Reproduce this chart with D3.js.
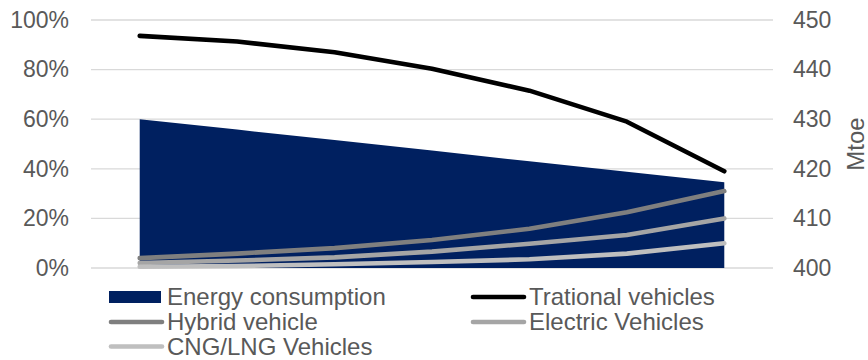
<!DOCTYPE html>
<html>
<head>
<meta charset="utf-8">
<script src="https://cdn.jsdelivr.net/npm/d3@7"></script>
<style>
  body { margin: 0; background: #fff; }
  svg { display: block; font-family: "Liberation Sans", Arial, sans-serif; }
</style>
</head>
<body>
<svg id="chart" width="868" height="360"></svg>
<script>
// ---- data ----
const categories = ["1", "2", "3", "4", "5", "6", "7"];
const energyConsumption = [430, 427.9, 425.8, 423.7, 421.5, 419.4, 417.3]; // Mtoe (right axis)
const trationalVehicles = [93.6, 91.3, 87.0, 80.3, 71.5, 59.0, 39.0];      // %
const hybridVehicle     = [4.0, 5.8, 8.0, 11.3, 15.8, 22.5, 31.0];
const electricVehicles  = [2.0, 3.0, 4.3, 6.6, 9.8, 13.3, 20.0];
const cngLngVehicles    = [0.5, 0.8, 1.5, 2.4, 3.5, 5.8, 10.0];
const leftTicks  = [0, 20, 40, 60, 80, 100];
const rightTicks = [400, 410, 420, 430, 440, 450];

const lineSeries = [
  { name: "Trational vehicles", values: trationalVehicles, color: "#000000" },
  { name: "Hybrid vehicle", values: hybridVehicle, color: "#7f7f7f" },
  { name: "Electric Vehicles", values: electricVehicles, color: "#a5a5a5" },
  { name: "CNG/LNG Vehicles", values: cngLngVehicles, color: "#bfbfbf" }
];

// ---- layout ----
const svg = d3.select("#chart");
const plot = { left: 91, right: 773, top: 20, bottom: 268 };
const textColor = "#595959";
const fontSize = 23;
const legendFont = 24;

const x = d3.scalePoint().domain(categories).range([plot.left, plot.right]).padding(0.5);
const yL = d3.scaleLinear().domain([0, 100]).range([plot.bottom, plot.top]);
const yR = d3.scaleLinear().domain([400, 450]).range([plot.bottom, plot.top]);

// gridlines
svg.append("g").selectAll("line").data(leftTicks).join("line")
  .attr("x1", plot.left).attr("x2", plot.right)
  .attr("y1", d => yL(d)).attr("y2", d => yL(d))
  .attr("stroke", "#d9d9d9").attr("stroke-width", 1.3);

// area (right axis)
const area = d3.area()
  .x((d, i) => x(categories[i]))
  .y0(plot.bottom)
  .y1(d => yR(d));
svg.append("path").datum(energyConsumption)
  .attr("d", area).attr("fill", "#002060");

// lines (left axis)
const line = d3.line().x((d, i) => x(categories[i])).y(d => yL(d));
svg.append("g").selectAll("path").data(lineSeries).join("path")
  .attr("d", s => line(s.values))
  .attr("fill", "none").attr("stroke", s => s.color)
  .attr("stroke-width", 4.6).attr("stroke-linecap", "round").attr("stroke-linejoin", "round");

// left axis
const leftAxis = d3.axisLeft(yL).tickValues(leftTicks).tickFormat(d => d + "%").tickSize(0).tickPadding(0);
const gl = svg.append("g").attr("transform", "translate(69,0)").call(leftAxis);
gl.select(".domain").remove();
gl.selectAll("text").attr("fill", textColor).style("font-size", fontSize + "px")
  .style("font-family", "'Liberation Sans', Arial, sans-serif");

// right axis
const rightAxis = d3.axisRight(yR).tickValues(rightTicks).tickSize(0).tickPadding(0);
const gr = svg.append("g").attr("transform", "translate(793,0)").call(rightAxis);
gr.select(".domain").remove();
gr.selectAll("text").attr("fill", textColor).style("font-size", fontSize + "px")
  .style("font-family", "'Liberation Sans', Arial, sans-serif");

// right axis title
svg.append("text")
  .attr("transform", `translate(864,${(plot.top + plot.bottom) / 2}) rotate(-90)`)
  .attr("text-anchor", "middle")
  .attr("fill", textColor).style("font-size", legendFont + "px")
  .text("Mtoe");

// legend
const legendItems = [
  { name: "Energy consumption", type: "area", color: "#002060" },
  ...lineSeries.map(s => ({ name: s.name, type: "line", color: s.color }))
];
const colX = [109, 471];
const rowY = [297, 322, 346.5];
const lg = svg.append("g");
legendItems.forEach((it, i) => {
  const cx = colX[i % 2], cy = rowY[Math.floor(i / 2)];
  if (it.type === "area") {
    lg.append("rect").attr("x", cx).attr("y", cy - 6).attr("width", 52).attr("height", 12).attr("fill", it.color);
  } else {
    lg.append("line").attr("x1", cx + 2).attr("x2", cx + 53).attr("y1", cy).attr("y2", cy)
      .attr("stroke", it.color).attr("stroke-width", 4.6).attr("stroke-linecap", "round");
  }
  lg.append("text").attr("x", cx + 58).attr("y", cy).attr("dy", "0.35em")
    .attr("fill", textColor).style("font-size", legendFont + "px").text(it.name);
});
</script>
</body>
</html>
